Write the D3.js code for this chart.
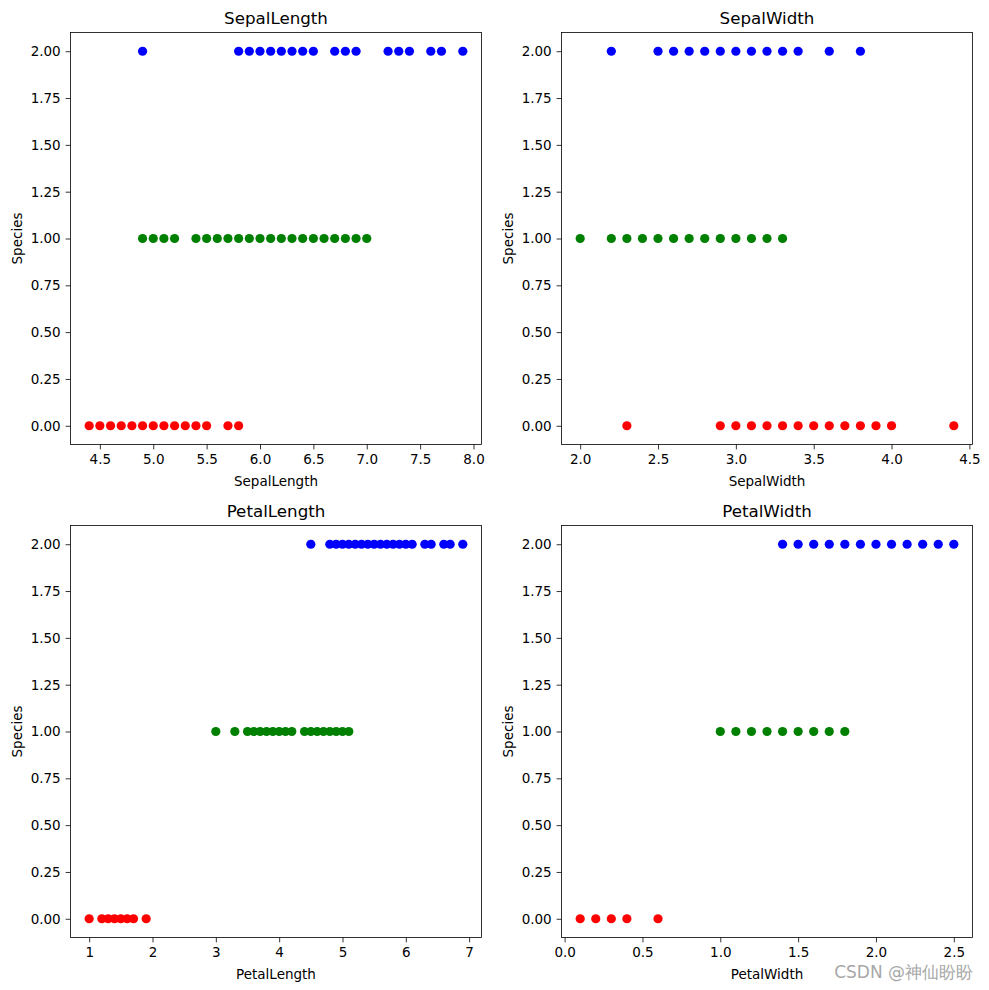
<!DOCTYPE html>
<html><head><meta charset="utf-8">
<script src="https://cdn.jsdelivr.net/npm/d3@7"></script>
<style>body{margin:0;background:#fff}svg{display:block}text{font-family:"DejaVu Sans",sans-serif}</style>
</head><body>
<script>
// Distinct values observed per species (0 = red, 1 = green, 2 = blue)
const sepalLength0 = [4.4,4.5,4.6,4.7,4.8,4.9,5.0,5.1,5.2,5.3,5.4,5.5,5.7,5.8];
const sepalLength1 = [4.9,5.0,5.1,5.2,5.4,5.5,5.6,5.7,5.8,5.9,6.0,6.1,6.2,6.3,6.4,6.5,6.6,6.7,6.8,6.9,7.0];
const sepalLength2 = [4.9,5.8,5.9,6.0,6.1,6.2,6.3,6.4,6.5,6.7,6.8,6.9,7.2,7.3,7.4,7.6,7.7,7.9];
const sepalWidth0 = [2.3,2.9,3.0,3.1,3.2,3.3,3.4,3.5,3.6,3.7,3.8,3.9,4.0,4.4];
const sepalWidth1 = [2.0,2.2,2.3,2.4,2.5,2.6,2.7,2.8,2.9,3.0,3.1,3.2,3.3];
const sepalWidth2 = [2.2,2.5,2.6,2.7,2.8,2.9,3.0,3.1,3.2,3.3,3.4,3.6,3.8];
const petalLength0 = [1.0,1.2,1.3,1.4,1.5,1.6,1.7,1.9];
const petalLength1 = [3.0,3.3,3.5,3.6,3.7,3.8,3.9,4.0,4.1,4.2,4.4,4.5,4.6,4.7,4.8,4.9,5.0,5.1];
const petalLength2 = [4.5,4.8,4.9,5.0,5.1,5.2,5.3,5.4,5.5,5.6,5.7,5.8,5.9,6.0,6.1,6.3,6.4,6.6,6.7,6.9];
const petalWidth0 = [0.1,0.2,0.3,0.4,0.6];
const petalWidth1 = [1.0,1.1,1.2,1.3,1.4,1.5,1.6,1.7,1.8];
const petalWidth2 = [1.4,1.5,1.6,1.7,1.8,1.9,2.0,2.1,2.2,2.3,2.4,2.5];

const features = ["SepalLength","SepalWidth","PetalLength","PetalWidth"];
const featureData = [
  [sepalLength0, sepalLength1, sepalLength2],
  [sepalWidth0, sepalWidth1, sepalWidth2],
  [petalLength0, petalLength1, petalLength2],
  [petalWidth0, petalWidth1, petalWidth2]
];
const xTicks = [
  [4.5,5.0,5.5,6.0,6.5,7.0,7.5,8.0],
  [2.0,2.5,3.0,3.5,4.0,4.5],
  [1,2,3,4,5,6,7],
  [0.0,0.5,1.0,1.5,2.0,2.5]
];
const xTickFmt = [".1f",".1f","d",".1f"];
const speciesValues = [0,1,2];
const yTicks = [0,0.25,0.5,0.75,1.0,1.25,1.5,1.75,2.0];
const colors = ["#ff0000","#008000","#0000ff"];

const W = 989, H = 990;
const svg = d3.select("body").append("svg").attr("width",W).attr("height",H);

const panels = [
  {x:70.5, y:32.5}, {x:561.5, y:32.5}, {x:70.5, y:525.5}, {x:561.5, y:525.5}
];
const pw = 411, ph = 412;

features.forEach((f,i)=>{
  const p = panels[i];
  const g = svg.append("g").attr("transform",`translate(${p.x},${p.y})`);
  const all = featureData[i].flat();
  const mn = d3.min(all), mx = d3.max(all), m = (mx-mn)*0.05;
  const x = d3.scaleLinear().domain([mn-m, mx+m]).range([0,pw]);
  const y = d3.scaleLinear().domain([-0.1,2.1]).range([ph,0]);

  featureData[i].forEach((vals,s)=>{
    g.selectAll(null).data(vals).enter().append("circle")
      .attr("cx",d=>x(d)).attr("cy",y(speciesValues[s])).attr("r",4.6)
      .attr("fill",colors[s]);
  });

  const xa = g.append("g").attr("transform",`translate(0,${ph})`)
    .call(d3.axisBottom(x).tickValues(xTicks[i]).tickFormat(d3.format(xTickFmt[i])).tickSize(4.9).tickPadding(4.9));
  const ya = g.append("g")
    .call(d3.axisLeft(y).tickValues(yTicks).tickFormat(d3.format(".2f")).tickSize(4.9).tickPadding(4.9));
  [xa,ya].forEach(a=>{
    a.select(".domain").remove();
    a.selectAll("line").attr("stroke","#000").attr("stroke-width",0.8);
    a.selectAll("text").attr("font-size","13.5px").attr("fill","#000").attr("font-family","DejaVu Sans");
  });
  g.append("rect").attr("width",pw).attr("height",ph).attr("fill","none").attr("stroke","#000").attr("stroke-width",0.8);

  g.append("text").attr("x",pw/2).attr("y",-9).attr("text-anchor","middle")
    .attr("font-size","16.7px").attr("fill","#000").text(f);
  g.append("text").attr("x",pw/2).attr("y",ph+41).attr("text-anchor","middle")
    .attr("font-size","13.5px").attr("fill","#000").text(f);
  g.append("text").attr("transform",`translate(-49,${ph/2}) rotate(-90)`).attr("text-anchor","middle")
    .attr("font-size","13.5px").attr("fill","#000").text("Species");
});

svg.append("text").attr("x",973).attr("y",978).attr("text-anchor","end")
  .attr("font-size","17px").attr("fill","#a8a8a8").attr("font-family","'Noto Sans CJK SC', sans-serif")
  .text("CSDN @神仙盼盼");
</script>
</body></html>
